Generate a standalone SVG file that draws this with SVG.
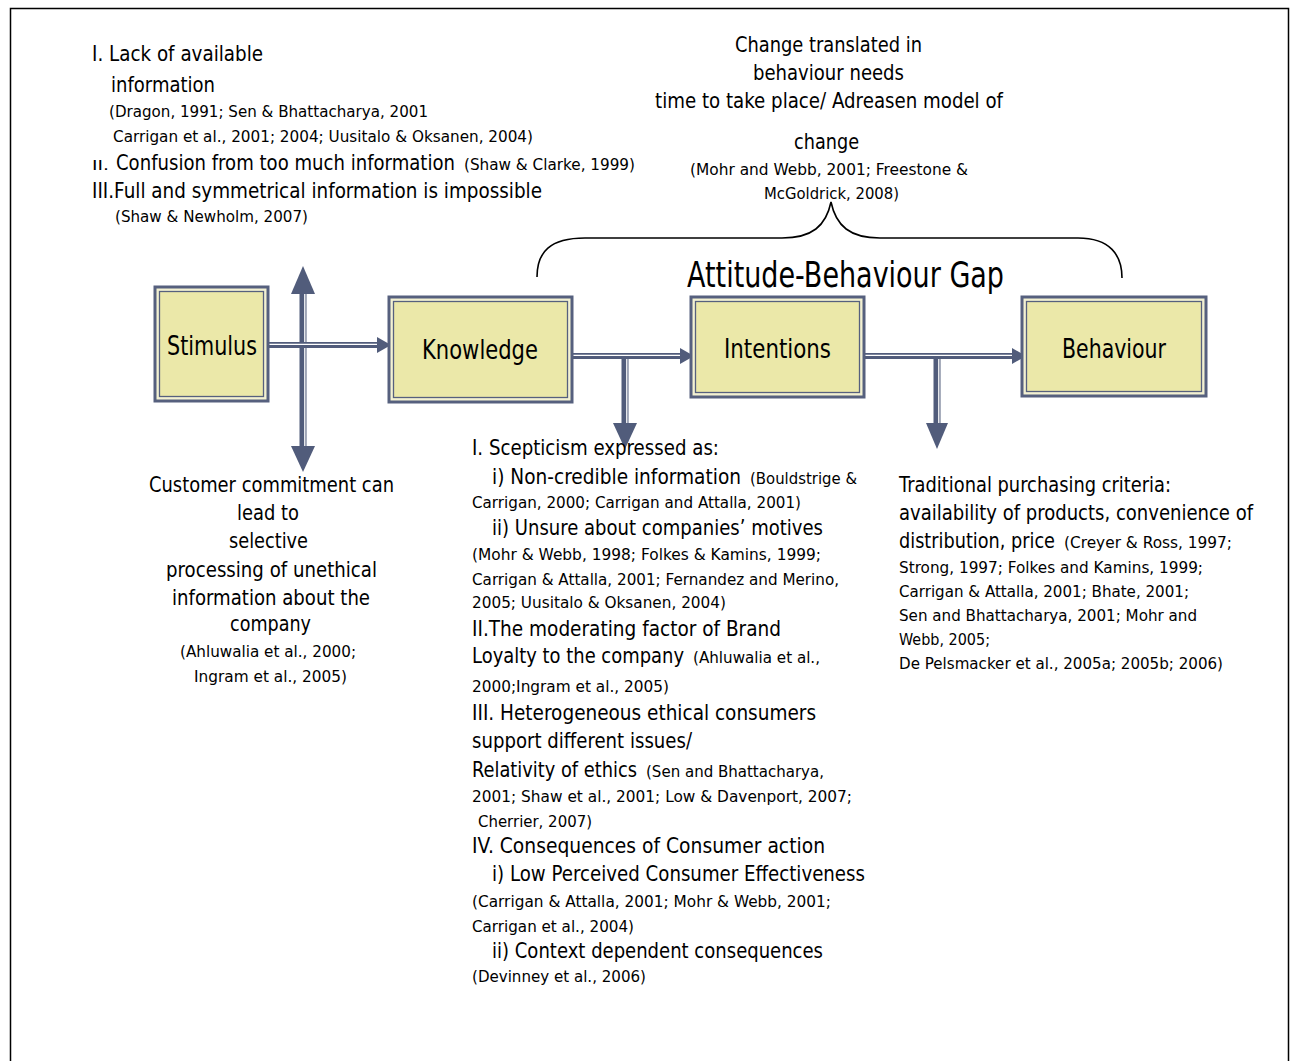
<svg xmlns="http://www.w3.org/2000/svg" width="1292" height="1061" viewBox="0 0 1292 1061">
  <style>
    .t { font-family: "DejaVu Sans", "Liberation Sans", sans-serif; fill: #000; }
    .m { font-size: 22px; }
    .s { font-size: 16.5px; }
    .r { font-size: 14px; }
    .b { font-size: 27px; }
    .g { font-size: 35px; }
    .box-out { fill: #f3f1d2; stroke: #56607e; stroke-width: 3; }
    .box-in { fill: #ebe8a9; stroke: #56607e; stroke-width: 1.3; }
    .band { stroke: #515c7b; fill: none; }
    .stripe { stroke: #ffffff; fill: none; stroke-width: 1.3; }
    .head { fill: #515c7b; }
    .brace { fill: none; stroke: #000; stroke-width: 1.6; }
  </style>

  <rect x="0" y="0" width="1292" height="1061" fill="#ffffff"/>
  <!-- page frame -->
  <path d="M10.5,1061 V8.5 H1288.5 V1061" fill="none" stroke="#000" stroke-width="1.5"/>

  <!-- connectors -->
  <g id="connectors">
    <!-- two-way vertical arrow beside Stimulus -->
    <line class="band" x1="303" y1="292" x2="303" y2="448" stroke-width="7"/>
    <line class="stripe" x1="304.8" y1="292" x2="304.8" y2="448"/>
    <polygon class="head" points="303,266 291,294 315,294"/>
    <polygon class="head" points="303,472 291,446 315,446"/>

    <!-- Stimulus to Knowledge -->
    <line class="band" x1="268" y1="345" x2="380" y2="345" stroke-width="6"/>
    <line class="stripe" x1="268" y1="344.3" x2="380" y2="344.3"/>
    <polygon class="head" points="391,345 377,337 377,353"/>

    <!-- Knowledge to Intentions -->
    <line class="band" x1="572" y1="356" x2="682" y2="356" stroke-width="6"/>
    <line class="stripe" x1="572" y1="355.3" x2="682" y2="355.3"/>
    <polygon class="head" points="694,356 680,348 680,364"/>
    <!-- branch down to scepticism -->
    <line class="band" x1="625" y1="356" x2="625" y2="425" stroke-width="7"/>
    <line class="stripe" x1="626.8" y1="359" x2="626.8" y2="425"/>
    <polygon class="head" points="613,423 637,423 625,449"/>

    <!-- Intentions to Behaviour -->
    <line class="band" x1="864" y1="356" x2="1014" y2="356" stroke-width="6"/>
    <line class="stripe" x1="864" y1="355.3" x2="1014" y2="355.3"/>
    <polygon class="head" points="1026,356 1012,348 1012,364"/>
    <!-- branch down to purchasing criteria -->
    <line class="band" x1="937" y1="356" x2="937" y2="425" stroke-width="7"/>
    <line class="stripe" x1="938.8" y1="359" x2="938.8" y2="425"/>
    <polygon class="head" points="926,423 948,423 937,449"/>

    <!-- brace over the gap -->
    <path class="brace" d="M537,277 C537,252 550,238 585,238 L782,238 C812,238 826,226 831,202 C836,226 850,238 880,238 L1078,238 C1110,238 1122,255 1122,278"/>
  </g>

  <!-- nodes -->
  <g id="stimulus">
    <rect class="box-out" x="155" y="287" width="113" height="114"/>
    <rect class="box-in" x="159.5" y="291.5" width="104" height="105"/>
    <text class="t b" x="167" y="355" textLength="90" lengthAdjust="spacingAndGlyphs">Stimulus</text>
  </g>
  <g id="knowledge">
    <rect class="box-out" x="389" y="297" width="183" height="105"/>
    <rect class="box-in" x="393.5" y="301.5" width="174" height="96"/>
    <text class="t b" x="422" y="359" textLength="116" lengthAdjust="spacingAndGlyphs">Knowledge</text>
  </g>
  <g id="intentions">
    <rect class="box-out" x="691" y="297" width="173" height="100"/>
    <rect class="box-in" x="695.5" y="301.5" width="164" height="91"/>
    <text class="t b" x="724" y="358" textLength="107" lengthAdjust="spacingAndGlyphs">Intentions</text>
  </g>
  <g id="behaviour">
    <rect class="box-out" x="1022" y="297" width="184" height="99"/>
    <rect class="box-in" x="1026.5" y="301.5" width="175" height="90"/>
    <text class="t b" x="1062" y="358" textLength="104" lengthAdjust="spacingAndGlyphs">Behaviour</text>
  </g>

  <!-- information barriers -->
  <g id="information-notes">
    <text class="t m" x="92" y="61" textLength="171" lengthAdjust="spacingAndGlyphs">I. Lack of available</text>
    <text class="t m" x="111" y="92" textLength="104" lengthAdjust="spacingAndGlyphs">information</text>
    <text class="t s" x="109" y="117" textLength="319" lengthAdjust="spacingAndGlyphs">(Dragon, 1991; Sen &amp; Bhattacharya, 2001</text>
    <text class="t s" x="113" y="142" textLength="420" lengthAdjust="spacingAndGlyphs">Carrigan et al., 2001; 2004; Uusitalo &amp; Oksanen, 2004)</text>
    <text class="t r" x="92" y="170" textLength="17" lengthAdjust="spacingAndGlyphs">II.</text>
    <text class="t m" x="116" y="170" textLength="339" lengthAdjust="spacingAndGlyphs">Confusion from too much information</text>
    <text class="t s" x="464" y="170" textLength="171" lengthAdjust="spacingAndGlyphs">(Shaw &amp; Clarke, 1999)</text>
    <text class="t m" x="92" y="198" textLength="450" lengthAdjust="spacingAndGlyphs">III.Full and symmetrical information is impossible</text>
    <text class="t s" x="115" y="222" textLength="193" lengthAdjust="spacingAndGlyphs">(Shaw &amp; Newholm, 2007)</text>
  </g>

  <!-- time-to-change note and gap title -->
  <g id="gap-notes">
    <text class="t m" x="735" y="52" textLength="187" lengthAdjust="spacingAndGlyphs">Change translated in</text>
    <text class="t m" x="753" y="80" textLength="151" lengthAdjust="spacingAndGlyphs">behaviour needs</text>
    <text class="t m" x="655" y="108" textLength="348" lengthAdjust="spacingAndGlyphs">time to take place/ Adreasen model of</text>
    <text class="t m" x="794" y="149" textLength="65" lengthAdjust="spacingAndGlyphs">change</text>
    <text class="t s" x="690" y="175" textLength="278" lengthAdjust="spacingAndGlyphs">(Mohr and Webb, 2001; Freestone &amp;</text>
    <text class="t s" x="764" y="199" textLength="135" lengthAdjust="spacingAndGlyphs">McGoldrick, 2008)</text>
    <text class="t g" x="687" y="287" textLength="317" lengthAdjust="spacingAndGlyphs">Attitude-Behaviour Gap</text>
  </g>

  <!-- commitment note -->
  <g id="commitment-notes">
    <text class="t m" x="149" y="492" textLength="245" lengthAdjust="spacingAndGlyphs">Customer commitment can</text>
    <text class="t m" x="237" y="520" textLength="62" lengthAdjust="spacingAndGlyphs">lead to</text>
    <text class="t m" x="229" y="548" textLength="79" lengthAdjust="spacingAndGlyphs">selective</text>
    <text class="t m" x="166" y="577" textLength="211" lengthAdjust="spacingAndGlyphs">processing of unethical</text>
    <text class="t m" x="172" y="605" textLength="198" lengthAdjust="spacingAndGlyphs">information about the</text>
    <text class="t m" x="230" y="631" textLength="81" lengthAdjust="spacingAndGlyphs">company</text>
    <text class="t s" x="180" y="657" textLength="176" lengthAdjust="spacingAndGlyphs">(Ahluwalia et al., 2000;</text>
    <text class="t s" x="194" y="682" textLength="153" lengthAdjust="spacingAndGlyphs">Ingram et al., 2005)</text>
  </g>

  <!-- scepticism list -->
  <g id="scepticism-notes">
    <text class="t m" x="472" y="455" textLength="247" lengthAdjust="spacingAndGlyphs">I. Scepticism expressed as:</text>
    <text class="t m" x="492" y="484" textLength="249" lengthAdjust="spacingAndGlyphs">i)  Non-credible information</text>
    <text class="t s" x="750" y="484" textLength="107" lengthAdjust="spacingAndGlyphs">(Bouldstrige &amp;</text>
    <text class="t s" x="472" y="508" textLength="329" lengthAdjust="spacingAndGlyphs">Carrigan, 2000; Carrigan and Attalla, 2001)</text>
    <text class="t m" x="492" y="535" textLength="331" lengthAdjust="spacingAndGlyphs">ii) Unsure about companies’ motives</text>
    <text class="t s" x="472" y="560" textLength="349" lengthAdjust="spacingAndGlyphs">(Mohr &amp; Webb, 1998; Folkes &amp; Kamins, 1999;</text>
    <text class="t s" x="472" y="585" textLength="367" lengthAdjust="spacingAndGlyphs">Carrigan &amp; Attalla, 2001; Fernandez and Merino,</text>
    <text class="t s" x="472" y="608" textLength="254" lengthAdjust="spacingAndGlyphs">2005; Uusitalo &amp; Oksanen, 2004)</text>
    <text class="t m" x="472" y="636" textLength="309" lengthAdjust="spacingAndGlyphs">II.The moderating factor of Brand</text>
    <text class="t m" x="472" y="663" textLength="212" lengthAdjust="spacingAndGlyphs">Loyalty to the company</text>
    <text class="t s" x="693" y="663" textLength="127" lengthAdjust="spacingAndGlyphs">(Ahluwalia et al.,</text>
    <text class="t s" x="472" y="692" textLength="197" lengthAdjust="spacingAndGlyphs">2000;Ingram et al., 2005)</text>
    <text class="t m" x="472" y="720" textLength="344" lengthAdjust="spacingAndGlyphs">III. Heterogeneous ethical consumers</text>
    <text class="t m" x="472" y="748" textLength="220" lengthAdjust="spacingAndGlyphs">support different issues/</text>
    <text class="t m" x="472" y="777" textLength="165" lengthAdjust="spacingAndGlyphs">Relativity of ethics</text>
    <text class="t s" x="646" y="777" textLength="178" lengthAdjust="spacingAndGlyphs">(Sen and Bhattacharya,</text>
    <text class="t s" x="472" y="802" textLength="380" lengthAdjust="spacingAndGlyphs">2001; Shaw et al., 2001; Low &amp; Davenport, 2007;</text>
    <text class="t s" x="478" y="827" textLength="114" lengthAdjust="spacingAndGlyphs">Cherrier, 2007)</text>
    <text class="t m" x="472" y="853" textLength="353" lengthAdjust="spacingAndGlyphs">IV.  Consequences of Consumer action</text>
    <text class="t m" x="492" y="881" textLength="373" lengthAdjust="spacingAndGlyphs">i) Low Perceived Consumer Effectiveness</text>
    <text class="t s" x="472" y="907" textLength="359" lengthAdjust="spacingAndGlyphs">(Carrigan &amp; Attalla, 2001; Mohr &amp; Webb, 2001;</text>
    <text class="t s" x="472" y="932" textLength="162" lengthAdjust="spacingAndGlyphs">Carrigan et al., 2004)</text>
    <text class="t m" x="492" y="958" textLength="331" lengthAdjust="spacingAndGlyphs">ii) Context dependent consequences</text>
    <text class="t s" x="472" y="982" textLength="174" lengthAdjust="spacingAndGlyphs">(Devinney et al., 2006)</text>
  </g>

  <!-- purchasing criteria -->
  <g id="criteria-notes">
    <text class="t m" x="899" y="492" textLength="272" lengthAdjust="spacingAndGlyphs">Traditional purchasing criteria:</text>
    <text class="t m" x="899" y="520" textLength="354" lengthAdjust="spacingAndGlyphs">availability of products, convenience of</text>
    <text class="t m" x="899" y="548" textLength="156" lengthAdjust="spacingAndGlyphs">distribution, price</text>
    <text class="t s" x="1064" y="548" textLength="168" lengthAdjust="spacingAndGlyphs">(Creyer &amp; Ross, 1997;</text>
    <text class="t s" x="899" y="573" textLength="304" lengthAdjust="spacingAndGlyphs">Strong, 1997; Folkes and Kamins, 1999;</text>
    <text class="t s" x="899" y="597" textLength="290" lengthAdjust="spacingAndGlyphs">Carrigan &amp; Attalla, 2001; Bhate, 2001;</text>
    <text class="t s" x="899" y="621" textLength="298" lengthAdjust="spacingAndGlyphs">Sen and Bhattacharya, 2001; Mohr and</text>
    <text class="t s" x="899" y="645" textLength="91" lengthAdjust="spacingAndGlyphs">Webb, 2005;</text>
    <text class="t s" x="899" y="669" textLength="324" lengthAdjust="spacingAndGlyphs">De Pelsmacker et al., 2005a; 2005b; 2006)</text>
  </g>
</svg>
